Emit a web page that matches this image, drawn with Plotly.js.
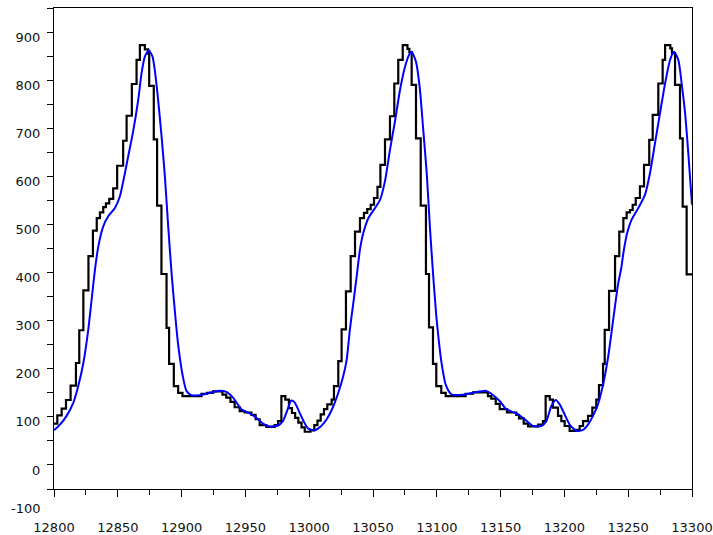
<!DOCTYPE html>
<html>
<head>
<meta charset="utf-8">
<script src="https://cdn.plot.ly/plotly-3.0.1.min.js"></script>
<style>
  html, body { margin: 0; padding: 0; background: #ffffff; }
  #chart { width: 713px; height: 535px; }
</style>
</head>
<body>
<div id="chart"></div>
<script>
// Sampled (stair-step) signal: x where each held value starts, and the value
const blackX = [
  12800, 12802.6, 12806, 12809.4, 12813, 12817.2, 12819.8, 12823, 12827, 12830.5,
  12833.5, 12836, 12838.6, 12840.7, 12843.3, 12846.4, 12849.5, 12854.2, 12856.9, 12861,
  12864.7, 12867.3, 12871.2, 12873.8, 12874.6, 12878.2, 12880.8, 12884.2, 12888.2, 12890.2,
  12893.9, 12897.3, 12900.7, 12915.6, 12920, 12924.7, 12932, 12935, 12938.3, 12941.6,
  12945.5, 12949.5, 12954.7, 12958, 12961.2, 12966.4, 12973, 12975.6, 12978.2, 12981.3,
  12984.1, 12986.5, 12989, 12991.5, 12994, 12996.5, 13001, 13004, 13006.5, 13009,
  13011.6, 13014.2, 13017.6, 13019.4, 13022.8, 13025.4, 13028.8, 13032.5, 13035.9, 13039.8,
  13042.9, 13045.5, 13048.2, 13050.8, 13053.5, 13055.8, 13059.4, 13063.3, 13066.7, 13069.8,
  13073.3, 13077, 13078.5, 13080.3, 13083.7, 13087.4, 13091.5, 13093.9, 13097, 13099.6,
  13103.5, 13107, 13122.6, 13128.4, 13140.1, 13142.7, 13146.2, 13149.3, 13155, 13162.3,
  13164.4, 13168.1, 13171.5, 13179.3, 13183.2, 13185.3, 13188.5, 13191, 13195, 13197.6,
  13200.2, 13204.1, 13208.8, 13212, 13214.6, 13218.5, 13221.9, 13225, 13227.1, 13230.3,
  13231.6, 13235, 13239.7, 13243, 13246.2, 13248.8, 13251.4, 13253.5, 13255.9, 13259.2,
  13262.4, 13266.5, 13269.2, 13273.6, 13277, 13278.9, 13283, 13284.3, 13286.7, 13290.6,
  13292.7, 13295.8, 13300
];
const blackY = [
  86, 103, 117, 135, 165, 212, 280, 363, 434, 487,
  513, 525, 536, 544, 553, 575, 622, 674, 726, 792,
  842, 873, 864, 855, 788, 677, 539, 397, 285, 210,
  164, 150, 143, 148, 150, 153, 146, 140, 131, 120,
  112, 109, 104, 95, 83, 79, 83, 91, 143, 136,
  118, 108, 98, 88, 78, 69, 72, 83, 92, 105,
  116, 126, 136, 164, 216, 282, 361, 434, 485, 513,
  524, 532, 541, 555, 578, 624, 677, 725, 793, 842,
  873, 865, 858, 790, 679, 539, 397, 286, 210, 164,
  150, 143, 148, 151, 143, 138, 127, 116, 109, 104,
  97, 86, 80, 84, 91, 143, 136, 119, 102, 91,
  81, 71, 73, 81, 91, 102, 119, 136, 166, 210,
  281, 362, 434, 485, 513, 525, 530, 541, 555, 579,
  624, 676, 728, 793, 842, 873, 866, 856, 790, 679,
  537, 396, 396
];

// Smoothed (filtered) signal
const blueX = [
  12800, 12804.7, 12809.9, 12815.1, 12819, 12823, 12826.9, 12829.5, 12832.1, 12834.7,
  12838.6, 12842.5, 12847.7, 12851.6, 12855.6, 12858.1, 12862, 12866, 12868.6, 12871.2,
  12874.3, 12877.2, 12879, 12881.6, 12884.3, 12886.9, 12889.5, 12892.1, 12894.7, 12897.3,
  12900.7, 12903.8, 12907.7, 12914.2, 12922, 12928.6, 12935, 12940.3, 12946.9, 12953.4,
  12958.6, 12963.8, 12969, 12975.5, 12979.4, 12982.6, 12986, 12988.6, 12991.9, 12995.6,
  12999, 13004, 13009, 13013.7, 13018.9, 13022.8, 13026.7, 13029.4, 13031.9, 13034.6,
  13037.2, 13039.8, 13042.4, 13046.3, 13051.6, 13055.5, 13059.4, 13063.3, 13067.2, 13071.2,
  13075.1, 13078.5, 13080.3, 13083.7, 13086.8, 13089.4, 13092.1, 13094.7, 13097, 13099.6,
  13101.5, 13103.5, 13107, 13111.4, 13120.5, 13128.4, 13138.8, 13142.7, 13149.3, 13154.5,
  13162.3, 13168.9, 13175.4, 13181.9, 13185.8, 13189.7, 13193.2, 13196.3, 13200.2, 13204.1,
  13209.3, 13214.6, 13218.5, 13222.4, 13226.3, 13230.3, 13234.2, 13238.1, 13242, 13244.6,
  13246.2, 13248.8, 13252.7, 13257.9, 13263.2, 13267.1, 13271, 13274.9, 13278.9, 13282.8,
  13285.9, 13289.3, 13291.9, 13294.6, 13297.1, 13300
];
const blueY = [
  72, 84, 102, 129, 164, 212, 282, 344, 406, 454,
  496, 517, 534, 558, 607, 641, 693, 759, 814, 849,
  862, 849, 821, 759, 683, 600, 496, 400, 320, 250,
  188, 154, 145, 145, 150, 154, 152, 140, 116, 107,
  98, 86, 80, 82, 91, 112, 134, 130, 112, 91,
  76, 72, 80, 95, 122, 150, 185, 219, 282, 337,
  392, 448, 482, 513, 534, 551, 590, 655, 714, 780,
  828, 854, 859, 838, 780, 696, 607, 490, 400, 310,
  260, 216, 167, 147, 146, 150, 154, 148, 133, 116,
  107, 95, 81, 81, 91, 122, 135, 126, 105, 84,
  71, 73, 84, 102, 126, 167, 223, 299, 375, 410,
  440, 478, 510, 534, 562, 607, 669, 731, 793, 842,
  859, 842, 793, 731, 648, 541
];

// Axes
const xRange = [12800, 13300];
const yRange = [-50, 950];
const xTickVals = [12800, 12850, 12900, 12950, 13000, 13050, 13100, 13150, 13200, 13250, 13300];
const yTickVals = [0, 100, 200, 300, 400, 500, 600, 700, 800, 900];
const yExtraLabelValue = -100;
const yExtraLabelText = "-100";

const tickFont = { family: "DejaVu Sans, Verdana, sans-serif", size: 13, color: "#111111" };

const traces = [
  {
    x: blackX, y: blackY, type: "scatter", mode: "lines",
    line: { shape: "hv", color: "#000000", width: 2.2 },
    hoverinfo: "skip"
  },
  {
    x: blueX, y: blueY, type: "scatter", mode: "lines",
    line: { shape: "spline", smoothing: 0.6, color: "#0000ff", width: 2 },
    hoverinfo: "skip"
  }
];

const layout = {
  width: 713, height: 535,
  margin: { l: 54, r: 21, t: 8, b: 46, pad: 0 },
  paper_bgcolor: "#ffffff",
  plot_bgcolor: "#ffffff",
  showlegend: false,
  font: tickFont,
  xaxis: {
    range: xRange,
    tickmode: "array",
    tickvals: xTickVals,
    ticktext: xTickVals.map(String),
    ticks: "outside", ticklen: 7, tickwidth: 1, tickcolor: "#000000",
    minor: { dtick: 25, tick0: 12800, ticks: "outside", ticklen: 5, tickcolor: "#000000", tickwidth: 1, showgrid: false },
    showline: true, linecolor: "#000000", linewidth: 1, mirror: true,
    showgrid: false, zeroline: false,
    tickfont: tickFont,
    ticklabelstandoff: 19
  },
  yaxis: {
    range: yRange,
    tickmode: "array",
    tickvals: yTickVals,
    ticktext: yTickVals.map(String),
    ticks: "outside", ticklen: 6, tickwidth: 1, tickcolor: "#000000",
    minor: { dtick: 50, tick0: -50, ticks: "outside", ticklen: 6, tickcolor: "#000000", tickwidth: 1, showgrid: false },
    showline: true, linecolor: "#000000", linewidth: 1, mirror: true,
    showgrid: false, zeroline: false,
    tickfont: tickFont,
    ticklabelshift: 5,
    ticklabelstandoff: 4
  },
  annotations: [
    {
      xref: "paper", yref: "paper",
      x: 0,
      y: (yExtraLabelValue - yRange[0]) / (yRange[1] - yRange[0]),
      text: yExtraLabelText,
      showarrow: false,
      xanchor: "right", yanchor: "middle",
      xshift: -11, yshift: 5,
      font: tickFont
    }
  ]
};

Plotly.newPlot("chart", traces, layout, { displayModeBar: false, staticPlot: true });
</script>
</body>
</html>
